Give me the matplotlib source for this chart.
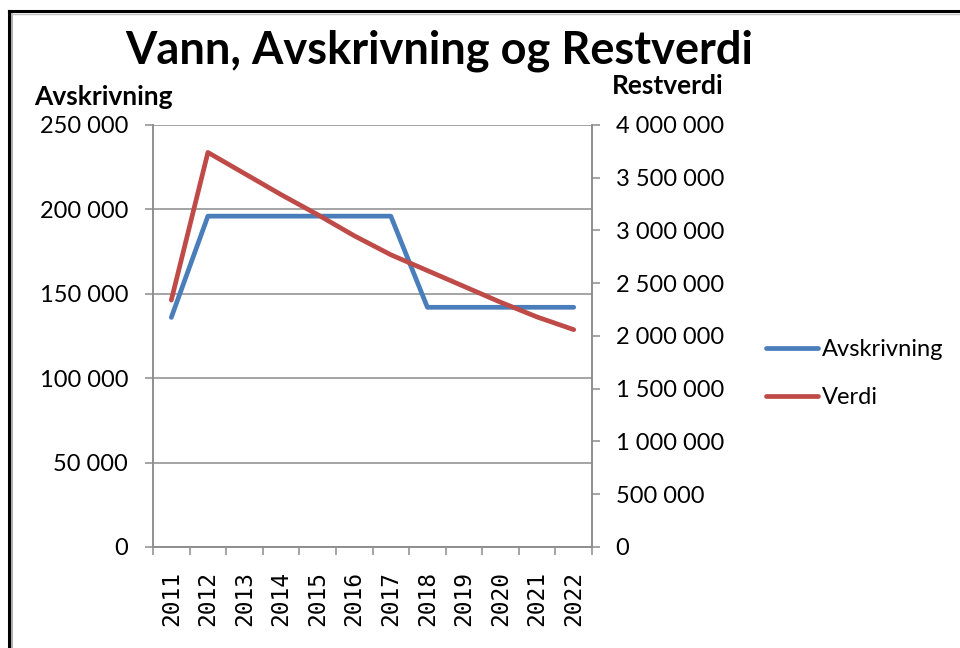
import matplotlib
matplotlib.use("Agg")
import matplotlib.pyplot as plt
from matplotlib.lines import Line2D
from matplotlib.ticker import FuncFormatter, MultipleLocator, FixedLocator

# ------------------------------------------------------------------
# Data
# ------------------------------------------------------------------
years = ["2011", "2012", "2013", "2014", "2015", "2016",
         "2017", "2018", "2019", "2020", "2021", "2022"]
avskrivning = [136000, 196000, 196000, 196000, 196000, 196000,
               196000, 142000, 142000, 142000, 142000, 142000]
verdi = [2340000, 3740000, 3540000, 3340000, 3150000, 2950000,
         2770000, 2620000, 2470000, 2320000, 2180000, 2060000]

BLUE = "#4A7EBB"
RED = "#BE4B48"
GRID = "#8C8C8C"


def space_thousands(v, pos=None):
    return f"{v:,.0f}".replace(",", " ")


def main():
    plt.rcParams["font.family"] = ["Lato", "DejaVu Sans"]

    fig = plt.figure(figsize=(9.6, 6.48), dpi=100)
    ax = fig.add_axes([0.1594, 0.1559, 0.4573, 0.6512])
    ax2 = ax.twinx()

    x = list(range(len(years)))
    ax.plot(x, avskrivning, color=BLUE, lw=3.4, solid_capstyle="round",
            label="Avskrivning", zorder=3)
    ax2.plot(x, verdi, color=RED, lw=3.4, solid_capstyle="round",
             label="Verdi", zorder=3)

    # left axis
    ax.set_ylim(0, 250000)
    ax.yaxis.set_major_locator(MultipleLocator(50000))
    ax.yaxis.set_major_formatter(FuncFormatter(space_thousands))
    ax.grid(axis="y", color=GRID, lw=1.1)
    ax.set_axisbelow(True)

    # right axis
    ax2.set_ylim(0, 4000000)
    ax2.yaxis.set_major_locator(MultipleLocator(500000))
    ax2.yaxis.set_major_formatter(FuncFormatter(space_thousands))

    # category axis: ticks between categories, labels at centres
    ax.set_xlim(-0.5, len(years) - 0.5)
    ax.xaxis.set_major_locator(FixedLocator([i - 0.5 for i in range(len(years) + 1)]))
    ax.xaxis.set_major_formatter(FuncFormatter(lambda v, p: ""))
    ax.xaxis.set_minor_locator(FixedLocator(x))
    ax.set_xticks(x, years, minor=True)
    ax.tick_params(axis="x", which="major", length=6, width=1.1, color=GRID)
    ax.tick_params(axis="x", which="minor", length=0, pad=17, labelrotation=90,
                   labelsize=16.5)
    for lbl in ax.get_xticklabels(minor=True):
        lbl.set_family("DejaVu Sans Mono")

    ax.tick_params(axis="y", length=6, width=1.1, color=GRID, pad=12, labelsize=17)
    ax2.tick_params(axis="y", length=6, width=1.1, color=GRID, pad=11, labelsize=17)

    for a in (ax, ax2):
        a.spines["top"].set_visible(False)
        for s in ("left", "right", "bottom"):
            a.spines[s].set_color(GRID)
            a.spines[s].set_linewidth(1.1)

    # titles
    fig.text(0.458, 0.922, "Vann, Avskrivning og Restverdi", ha="center",
             va="center", fontsize=32.5, fontweight="bold")
    fig.text(0.036, 0.851, "Avskrivning", ha="left", va="center",
             fontsize=19, fontweight="bold")
    fig.text(0.637, 0.867, "Restverdi", ha="left", va="center",
             fontsize=19, fontweight="bold")

    # legend
    handles = [Line2D([], [], color=BLUE, lw=3.4, solid_capstyle="round"),
               Line2D([], [], color=RED, lw=3.4, solid_capstyle="round")]
    fig.legend(handles, ["Avskrivning", "Verdi"], loc="center left",
               bbox_to_anchor=(0.776, 0.423), frameon=False, fontsize=17,
               handlelength=2.2, handletextpad=0.15, labelspacing=1.15)

    # frame around the chart (left and top edges visible)
    fig.add_artist(Line2D([9 / 960, 9 / 960], [0, 1 - 11 / 648],
                          transform=fig.transFigure, color="black", lw=2.2))
    fig.add_artist(Line2D([11.5 / 960, 11.5 / 960], [0, 1 - 13 / 648],
                          transform=fig.transFigure, color="#A0A0A0", lw=1.2))
    fig.add_artist(Line2D([9 / 960, 1], [1 - 11 / 648, 1 - 11 / 648],
                          transform=fig.transFigure, color="black", lw=2.2))
    fig.add_artist(Line2D([11.5 / 960, 1], [1 - 13.5 / 648, 1 - 13.5 / 648],
                          transform=fig.transFigure, color="#C0C0C0", lw=1.0))

    fig.savefig("out.png", dpi=100)
    plt.close(fig)


if __name__ == "__main__":
    main()
